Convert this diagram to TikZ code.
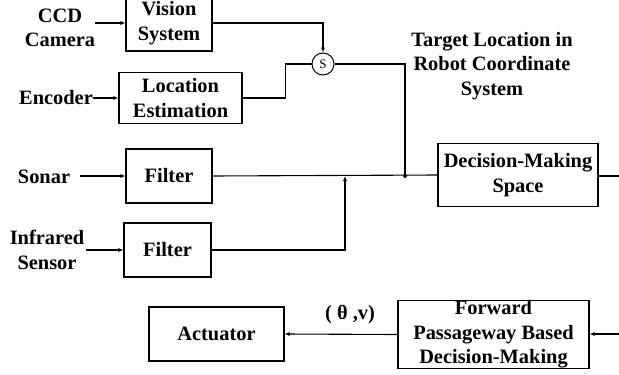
\documentclass[tikz,border=0pt]{standalone}
\usepackage{fontspec}
\setmainfont{Liberation Serif}
\usepackage{tikz}
\usetikzlibrary{arrows.meta,calc}
\tikzset{
  wire/.style={black,line width=1.1pt},
  flow/.style={wire,-{Latex[length=5pt,width=4pt]}},
  block/.style={draw=black,line width=1.1pt,align=center,inner sep=0pt,
                font=\fontsize{20.4}{24.6}\selectfont\bfseries},
  lab/.style={align=center,inner sep=0pt,font=\fontsize{20.4}{24.6}\selectfont\bfseries},
  sumnode/.style={draw=black,line width=1pt,circle,minimum size=22pt,inner sep=0pt,
                  font=\fontsize{13}{13}\selectfont},
  joint/.style={circle,fill=black,minimum size=4pt,inner sep=0pt},
}

\begin{document}
\begin{tikzpicture}[x=1pt,y=-1pt]
  \path[use as bounding box,fill=white] (0,0) rectangle (619,375);

  % sensing side
  \node[lab] (ccd) at (60,28) {CCD\\Camera};
  \node[lab] (encoder) at (56,98) {Encoder};
  \node[lab] (sonar) at (44,177) {Sonar};
  \node[lab] (infrared) at (47,250) {Infrared\\Sensor};

  \node[block,minimum width=86pt,minimum height=56pt] (vision) at (169,23) {Vision\\System};
  \node[block,minimum width=123pt,minimum height=51pt] (locest) at (180.5,98) {Location\\Estimation};
  \node[block,minimum width=86pt,minimum height=54pt] (filtsonar) at (169,176) {Filter};
  \node[block,minimum width=87pt,minimum height=54pt] (filtir) at (167.5,250) {Filter};

  \node[sumnode] (sum) at (323,64) {S};
  \node[lab] (target) at (492,66) {Target Location in\\Robot Coordinate\\System};

  \node[block,minimum width=160pt,minimum height=63pt] (dms) at (518,175) {Decision-Making\\Space};

  \coordinate (junction) at (405,176);
  \coordinate (merge) at (345,176);
  \coordinate (dmsout) at (619,176);

  \draw[flow] (ccd.east |- vision.west) -- (vision.west);
  \draw[flow] (encoder.east) -- (locest.west);
  \draw[flow] ([xshift=10pt]sonar.east |- filtsonar.west) -- (filtsonar.west);
  \draw[flow] ([xshift=2pt]infrared.east |- filtir.west) -- (filtir.west);

  \draw[flow] (vision.east) -| (sum.north);
  \draw[wire] (locest.east) -- ++(43,0) |- (sum.west);
  \draw[wire] (sum.east) -| (junction);
  \node[joint] at (junction) {};
  \draw[wire] (filtsonar.east) -- (dms.west);
  \draw[flow] (filtir.east) -| (merge);
  \draw[wire] (dms.east |- dmsout) -- (dmsout);

  % acting side
  \node[block,minimum width=135pt,minimum height=54pt] (actuator) at (216.5,334) {Actuator};
  \node[block,minimum width=191pt,minimum height=68pt] (forward) at (493.5,334.5)
    {Forward\\Passageway Based\\Decision-Making};
  \coordinate (forwardin) at (619,334);

  \draw[flow] (forward.west) -- (actuator.east);
  \node[lab] (cmd) at (350,315) {( θ ,v)};
  \draw[flow] (forwardin) -- (forward.east |- forwardin);
\end{tikzpicture}
\end{document}
